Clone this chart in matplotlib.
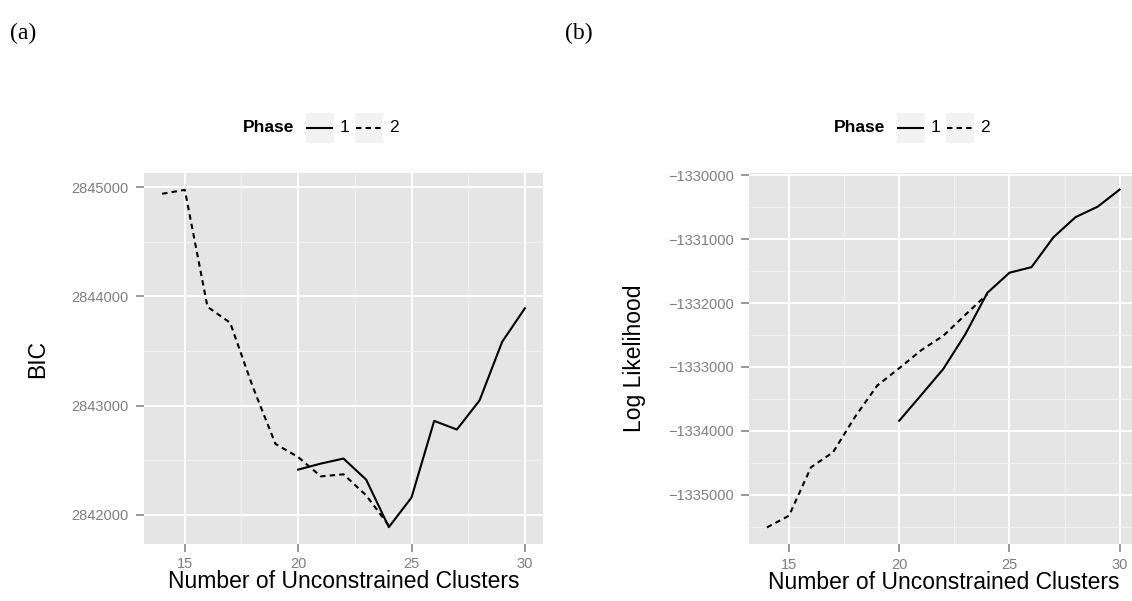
import matplotlib
matplotlib.use('Agg')
import matplotlib.pyplot as plt
from matplotlib.lines import Line2D
from matplotlib.patches import Rectangle
from matplotlib.ticker import FixedLocator, FuncFormatter

plt.rcParams['font.family'] = ['Liberation Sans', 'DejaVu Sans']

# clusters and fitted criteria per phase
k_phase2 = [14, 15, 16, 17, 18, 19, 20, 21, 22, 23, 24]
k_phase1 = [20, 21, 22, 23, 24, 25, 26, 27, 28, 29, 30]

bic_phase2 = [2844939, 2844975, 2843904, 2843758, 2843170, 2842648,
              2842528, 2842351, 2842370, 2842177, 2841900]
bic_phase1 = [2842413, 2842468, 2842514, 2842321, 2841886, 2842157,
              2842859, 2842780, 2843046, 2843584, 2843890]

ll_phase2 = [-1335513, -1335330, -1334571, -1334336, -1333780, -1333293,
             -1333021, -1332738, -1332513, -1332184, -1331860]
ll_phase1 = [-1333843, -1333440, -1333032, -1332488, -1331840, -1331526,
             -1331438, -1330969, -1330655, -1330492, -1330224]

x_ticks = [15, 20, 25, 30]
bic_ticks = [2842000, 2843000, 2844000, 2845000]
ll_ticks = [-1335000, -1334000, -1333000, -1332000, -1331000, -1330000]

W, H = 1132, 601
fig = plt.figure(figsize=(W / 100, H / 100), dpi=100)

def fx(x):
    return x / W

def fy(y):
    return 1 - y / H

GREY = '#7F7F7F'
DASH = (2.6, 2.0)

def style_axes(ax, yticks, height_px):
    ax.set_facecolor('#E5E5E5')
    for s in ax.spines.values():
        s.set_visible(False)
    ax.xaxis.set_major_locator(FixedLocator(x_ticks))
    ax.xaxis.set_minor_locator(FixedLocator([12.5, 17.5, 22.5, 27.5]))
    ax.yaxis.set_major_locator(FixedLocator(yticks))
    step = yticks[1] - yticks[0]
    ax.yaxis.set_minor_locator(FixedLocator([t + step / 2 for t in [yticks[0] - step] + yticks]))
    ax.yaxis.set_major_formatter(FuncFormatter(lambda v, p: ('%d' % v).replace('-', '\u2212')))
    ax.grid(which='major', color='white', lw=1.4)
    ax.grid(which='minor', color='#F2F2F2', lw=0.7)
    ax.set_axisbelow(True)
    ax.tick_params(which='major', length=5.8, width=1.1, color=GREY,
                   labelcolor=GREY, labelsize=10.5, pad=5.2)
    ax.tick_params(axis='x', which='major', pad=3.8)
    ax.tick_params(which='minor', length=0)
    ax.set_xlabel('Number of Unconstrained Clusters', fontsize=16.5, va='center')
    ax.xaxis.set_label_coords(0.5, -38 / height_px)

def pad_limits(vals):
    lo, hi = min(vals), max(vals)
    d = (hi - lo) * 0.05
    return lo - d, hi + d

# (a) BIC
ax1 = fig.add_axes([fx(144), fy(544), fx(399), 371 / H])
ax1.plot(k_phase1, bic_phase1, color='black', lw=1.5)
ax1.plot(k_phase2, bic_phase2, color='black', lw=1.5, dashes=DASH)
style_axes(ax1, bic_ticks, 371)
ax1.set_xlim(13.2, 30.8)
ax1.set_ylim(*pad_limits(bic_phase1 + bic_phase2))
ax1.set_ylabel('BIC', fontsize=16.5, labelpad=16)

# (b) log likelihood
ax2 = fig.add_axes([fx(749.3), fy(544.3), fx(388), 371.6 / H])
ax2.plot(k_phase1, ll_phase1, color='black', lw=1.5)
ax2.plot(k_phase2, ll_phase2, color='black', lw=1.5, dashes=DASH)
style_axes(ax2, ll_ticks, 371.6)
ax2.set_xlim(13.2, 30.8)
ax2.set_ylim(*pad_limits(ll_phase1 + ll_phase2))
ax2.set_ylabel('Log Likelihood', fontsize=16.5, labelpad=16)

# legends above each panel
def phase_legend(dx):
    fig.text(fx(243 + dx), fy(128), 'Phase', fontsize=12.5, fontweight='bold',
             va='center', ha='left')
    for bx, lab, dashed in [(305, '1', False), (354, '2', True)]:
        fig.patches.append(Rectangle((fx(bx + dx), fy(143)), fx(29), 31 / H,
                                     transform=fig.transFigure,
                                     facecolor='#F2F2F2', edgecolor='white', lw=0.8))
        ln = Line2D([fx(bx + dx + 2), fx(bx + dx + 27)], [fy(128), fy(128)],
                    transform=fig.transFigure, color='black', lw=1.5)
        if dashed:
            ln.set_dashes(DASH)
        fig.lines.append(ln)
        fig.text(fx(bx + dx + 35), fy(128), lab, fontsize=12.5,
                 va='center', ha='left')

phase_legend(0)
phase_legend(591)

fig.text(fx(10), fy(33), '(a)', fontsize=17, family='Liberation Serif',
         va='center', ha='left')
fig.text(fx(565), fy(33), '(b)', fontsize=17, family='Liberation Serif',
         va='center', ha='left')

fig.savefig('out.png', dpi=100)
